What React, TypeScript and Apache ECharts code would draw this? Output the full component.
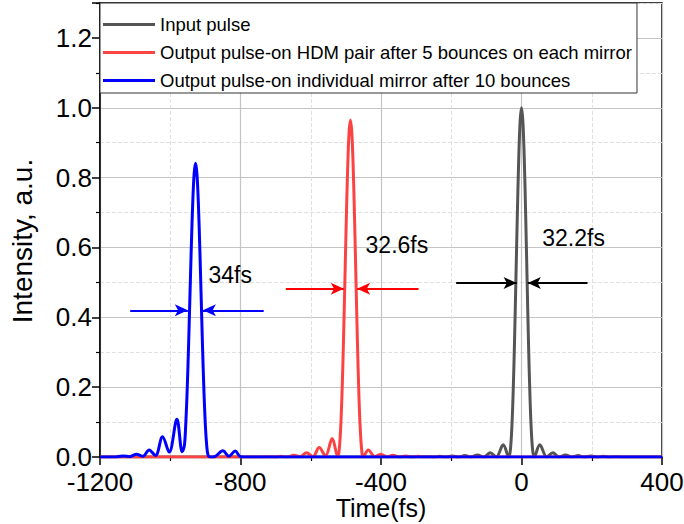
import React, { useEffect, useRef } from "react";
import * as echarts from "echarts";

const FONT = "'Liberation Sans', Arial, Helvetica, sans-serif";

const seriesNames = [
  "Input pulse",
  "Output pulse-on HDM pair after 5 bounces on each mirror",
  "Output pulse-on individual mirror after 10 bounces",
];
const seriesColors = ["#555555", "#fb4343", "#0000ff"];
const arrowColors = ["#000000", "#ff0000", "#0000ff"];

const xTitle = "Time(fs)";
const yTitle = "Intensity, a.u.";

const xMin = -1200;
const xMax = 400;
const xStep = 400;
const yMin = 0;
const yMax = 1.3;
const yStep = 0.2;

// Input pulse (gray), centred at 0 fs
const inputPulse: number[][] = [
  [-1200, 0], [-290, 0], [-269, 0.001], [-251, 0], [-233, 0.002], [-215, 0],
  [-197, 0.003], [-179, 0], [-161, 0.004], [-143, 0], [-125, 0.006], [-107, 0],
  [-89, 0.012], [-72, 0], [-52, 0.035], [-36, 0],
  [-32, 0.017], [-28, 0.074], [-24, 0.177], [-20, 0.325], [-16, 0.504], [-12, 0.688],
  [-8, 0.85], [-4, 0.96], [0, 1.0], [4, 0.96], [8, 0.85], [12, 0.688], [16, 0.504],
  [20, 0.325], [24, 0.177], [28, 0.074], [32, 0.017], [36, 0],
  [52, 0.035], [72, 0], [89, 0.012], [107, 0], [125, 0.006], [143, 0], [161, 0.004],
  [179, 0], [197, 0.003], [215, 0], [233, 0.002], [251, 0], [269, 0.001], [290, 0],
  [400, 0],
];

// Output pulse on HDM pair (red), centred near -487 fs
const hdmPulse: number[][] = [
  [-1200, 0], [-745, 0], [-722, 0.001], [-703, 0], [-685, 0.002], [-667, 0],
  [-648, 0.005], [-630, 0.001], [-612, 0.012], [-594, 0.001], [-576, 0.027],
  [-558, 0.003], [-539, 0.053], [-523, 0.001],
  [-519, 0.02], [-515, 0.079], [-511, 0.181], [-507, 0.325], [-503, 0.496],
  [-499, 0.671], [-495, 0.824], [-491, 0.928], [-487, 0.965], [-483, 0.928],
  [-479, 0.824], [-475, 0.671], [-471, 0.496], [-467, 0.325], [-463, 0.181],
  [-459, 0.079], [-455, 0.02], [-451, 0],
  [-436, 0.02], [-418, 0.001], [-401, 0.008], [-383, 0], [-366, 0.005], [-348, 0],
  [-330, 0.003], [-312, 0], [-294, 0.002], [-275, 0], [400, 0],
];

// Output pulse on individual mirror (blue), centred near -928 fs
const mirrorPulse: number[][] = [
  [-1200, 0], [-1160, 0], [-1135, 0.003], [-1115, 0.001], [-1096, 0.008],
  [-1078, 0.002], [-1060, 0.02], [-1042, 0.004], [-1022, 0.058], [-1003, 0.014],
  [-981, 0.108], [-966, 0.015],
  [-960, 0.031], [-956, 0.091], [-952, 0.186], [-948, 0.313], [-944, 0.458],
  [-940, 0.603], [-936, 0.728], [-932, 0.811], [-928, 0.841], [-924, 0.811],
  [-920, 0.728], [-916, 0.603], [-912, 0.458], [-908, 0.313], [-904, 0.186],
  [-900, 0.091], [-896, 0.031], [-892, 0.004], [-886, 0],
  [-872, 0.002], [-850, 0.018], [-833, 0.002], [-815, 0.017], [-800, 0.001],
  [-780, 0], [400, 0],
];

// FWHM arrows: [tail x, y, tip x]
const inputArrows: number[][] = [[-186, 0.498, -14], [188, 0.498, 18]];
const hdmArrows: number[][] = [[-671, 0.482, -506], [-293, 0.482, -468]];
const mirrorArrows: number[][] = [[-1114, 0.42, -950], [-734, 0.42, -907]];

// FWHM labels: [x, y, text]
const fwhmLabels: [number, number, string][] = [
  [-891, 0.52, "34fs"],
  [-444, 0.608, "32.6fs"],
  [59, 0.627, "32.2fs"],
];

export default function App() {
  const ref = useRef<HTMLDivElement>(null);

  useEffect(() => {
    document.body.style.margin = "0";
    const chart = echarts.init(ref.current!, null, { renderer: "svg" });

    const arrowData = (arrows: number[][]) =>
      arrows.map(([x0, y, x1]) => [
        { coord: [x0, y], symbol: "none" },
        { coord: [x1, y], symbol: "arrow", symbolSize: [9, 13] },
      ]);

    const pulseSeries = (
      name: string,
      data: number[][],
      color: string,
      arrowColor: string,
      arrows: number[][],
      z: number
    ) => ({
      type: "line",
      name,
      data,
      smooth: 0.35,
      showSymbol: false,
      symbol: "none",
      color,
      z,
      lineStyle: { width: 3, color },
      emphasis: { disabled: true },
      markLine: {
        silent: true,
        symbol: ["none", "arrow"],
        label: { show: false },
        lineStyle: { color: arrowColor, width: 2, type: "solid" },
        emphasis: { disabled: true },
        data: arrowData(arrows),
      },
    });

    const option: any = {
      animation: false,
      backgroundColor: "#ffffff",
      textStyle: { fontFamily: FONT },
      grid: {
        left: 100,
        right: 22,
        top: 3,
        bottom: 67,
        containLabel: false,
        outerBoundsMode: "none",
        show: true,
        borderColor: "#000",
        borderWidth: 1.5,
        backgroundColor: "transparent",
      },
      legend: {
        data: seriesNames,
        orient: "vertical",
        left: 100,
        top: 3,
        padding: [12, 5, 3, 3],
        itemWidth: 52,
        itemHeight: 3,
        itemGap: 9,
        icon: "rect",
        selectedMode: false,
        backgroundColor: "#ffffff",
        borderColor: "#333",
        borderWidth: 1,
        textStyle: { fontSize: 18.5, color: "#000", fontFamily: FONT },
      },
      xAxis: {
        type: "value",
        min: xMin,
        max: xMax,
        interval: xStep,
        axisLine: { show: true, onZero: false, lineStyle: { color: "#000", width: 1.5 } },
        axisTick: { show: true, inside: false, length: 8, lineStyle: { color: "#000", width: 1.5 } },
        minorTick: { show: true, splitNumber: 2, length: 4, lineStyle: { color: "#000", width: 1.2 } },
        axisLabel: {
          fontSize: 26,
          lineHeight: 23,
          color: "#000",
          margin: 13,
          fontFamily: FONT,
          formatter: (v: number) => String(v),
        },
        splitLine: { show: true, lineStyle: { color: "#c4c4c4", width: 1.2 } },
        minorSplitLine: { show: true, lineStyle: { color: "#e0e0e0", width: 1, type: "dashed" } },
      },
      yAxis: {
        type: "value",
        min: yMin,
        max: yMax,
        interval: yStep,
        axisLine: { show: true, onZero: false, lineStyle: { color: "#000", width: 1.5 } },
        axisTick: { show: true, inside: false, length: 8, lineStyle: { color: "#000", width: 1.5 } },
        minorTick: { show: true, splitNumber: 2, length: 4, lineStyle: { color: "#000", width: 1.2 } },
        axisLabel: {
          fontSize: 26,
          lineHeight: 21,
          color: "#000",
          margin: 8,
          fontFamily: FONT,
          showMaxLabel: false,
          formatter: (v: number) => v.toFixed(1),
        },
        splitLine: { show: true, lineStyle: { color: "#c4c4c4", width: 1.2 } },
        minorSplitLine: { show: true, lineStyle: { color: "#e0e0e0", width: 1, type: "dashed" } },
      },
      series: [
        pulseSeries(seriesNames[0], inputPulse, seriesColors[0], arrowColors[0], inputArrows, 2),
        pulseSeries(seriesNames[1], hdmPulse, seriesColors[1], arrowColors[1], hdmArrows, 3),
        pulseSeries(seriesNames[2], mirrorPulse, seriesColors[2], arrowColors[2], mirrorArrows, 4),
      ],
    };

    chart.setOption(option);

    const labelGraphics = fwhmLabels.map(([x, y, t]) => {
      const p = chart.convertToPixel({ gridIndex: 0 }, [x, y]) as number[];
      return {
        type: "text",
        x: p[0],
        y: p[1],
        z: 20,
        silent: true,
        style: {
          text: t,
          font: `23px ${FONT}`,
          fill: "#000",
          align: "left",
          verticalAlign: "middle",
        },
      };
    });

    chart.setOption({
      graphic: [
        {
          type: "text",
          x: 22,
          y: 241,
          rotation: Math.PI / 2,
          silent: true,
          style: {
            text: yTitle,
            font: `28px ${FONT}`,
            fill: "#000",
            align: "center",
            verticalAlign: "middle",
          },
          z: 20,
        },
        {
          type: "text",
          x: 381,
          y: 508,
          silent: true,
          style: {
            text: xTitle,
            font: `25px ${FONT}`,
            fill: "#000",
            align: "center",
            verticalAlign: "middle",
          },
          z: 20,
        },
        ...labelGraphics,
      ],
    });

    return () => chart.dispose();
  }, []);

  return <div ref={ref} style={{ width: 684, height: 524 }} />;
}
